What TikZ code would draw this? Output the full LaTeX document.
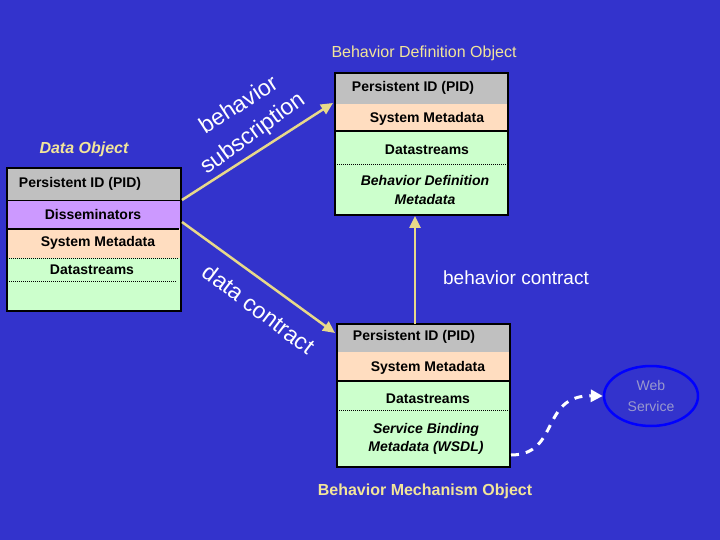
\documentclass[tikz,border=0pt]{standalone}
\usepackage{fontspec}
\setmainfont{Liberation Sans}
\usetikzlibrary{arrows.meta,shapes.geometric}
\definecolor{bg}{HTML}{3333CC}
\definecolor{pidc}{HTML}{C0C0C0}
\definecolor{dissc}{HTML}{CC99FF}
\definecolor{sysc}{HTML}{FFDDC0}
\definecolor{dsc}{HTML}{CCFFCC}
\definecolor{ylw}{HTML}{F2E59A}
\definecolor{arr}{HTML}{E8D98A}
\definecolor{wsc}{HTML}{9999CC}
\begin{document}
\begin{tikzpicture}[x=1pt,y=-1pt,
  btxt/.style={font=\bfseries\fontsize{14}{16}\selectfont, inner sep=0pt},
  itxt/.style={font=\bfseries\itshape\fontsize{14}{18}\selectfont, align=center, inner sep=0pt},
  ttl/.style={text=ylw, font=\fontsize{16}{18}\selectfont, inner sep=0pt},
  conn/.style={arr, line width=2.5pt, -{Triangle[length=12pt,width=11pt]}},
  rot/.style={text=white, font=\fontsize{23}{26}\selectfont, inner sep=0pt},
  dots/.style={densely dotted, line width=1pt},
  thick2/.style={line width=2.5pt}]
\fill[bg] (0,0) rectangle (720,540);
\useasboundingbox (0,0) rectangle (720,540);
% Data object
\fill[pidc] (7,168) rectangle (181,200);
\fill[dissc] (7,200) rectangle (181,229);
\fill[sysc] (7,229) rectangle (181,258);
\fill[dsc] (7,258) rectangle (181,311);
\draw[line width=0.6pt] (7,200) -- (181,200);
\draw[thick2] (7,229) -- (179,229);
\draw[dots] (7,258) -- (179,258);
\draw[dots] (7,281) -- (177,281);
\draw[line width=2pt] (7,168) rectangle (181,311);
\node[btxt] (dpid) at (80,184) {Persistent ID (PID)};
\node[btxt] (ddis) at (93,214) {Disseminators};
\node[btxt] (dsys) at (98,243) {System Metadata};
\node[btxt] (dds) at (92,270) {Datastreams};
\coordinate (dobj1) at (182,200);
\coordinate (dobj2) at (182,222);
\node[text=ylw, font=\bfseries\itshape\fontsize{16}{18}\selectfont, inner sep=0pt] (dtitle) at (84,149) {Data Object};
% BDef
\fill[pidc] (335,73) rectangle (508,104);
\fill[sysc] (335,104) rectangle (508,131);
\fill[dsc] (335,131) rectangle (508,215);
\draw[thick2] (335,131) -- (508,131);
\draw[dots] (335,165) -- (508,165);
\draw[line width=2pt] (335,73) rectangle (508,215);
\node[btxt] (bpid) at (413,88) {Persistent ID (PID)};
\node[btxt] (bsys) at (427,119) {System Metadata};
\node[btxt] (bds) at (427,150) {Datastreams};
\node[itxt] (bmd) at (425,190) {Behavior Definition\\Metadata};
\coordinate (bdefin) at (333,103);
\coordinate (bdefbot) at (415,216);
\node[ttl] (btitle) at (424,53) {Behavior Definition Object};
% BMech
\fill[pidc] (337,324) rectangle (510,352);
\fill[sysc] (337,352) rectangle (510,381);
\fill[dsc] (337,381) rectangle (510,467);
\draw[thick2] (337,381) -- (510,381);
\draw[dots] (337,410) -- (510,410);
\draw[line width=2pt] (337,324) rectangle (510,467);
\node[btxt] (mpid) at (414,337) {Persistent ID (PID)};
\node[btxt] (msys) at (428,368) {System Metadata};
\node[btxt] (mds) at (428,399) {Datastreams};
\node[itxt] (mwsdl) at (426,439) {Service Binding\\Metadata (WSDL)};
\coordinate (mtop) at (415,324);
\coordinate (min) at (335,333);
\coordinate (mout) at (511,455);
\node[ttl, font=\bfseries\fontsize{16}{18}\selectfont] (mtitle) at (425,491) {Behavior Mechanism Object};
% Web service
\node[draw=blue, line width=2.5pt, ellipse, minimum width=94pt, minimum height=60pt, inner sep=0pt,
  text=wsc, align=center, font=\fontsize{14}{21}\selectfont] (ws) at (651,396) {Web\\Service};
% connectors
\draw[conn] (dobj1) -- (bdefin);
\draw[conn] (dobj2) -- (min);
\draw[conn] (mtop) -- (bdefbot);
\draw[white, line width=3pt, dash pattern=on 8pt off 7pt, -{Triangle[length=12pt,width=12pt]}]
  (mout) .. controls (560,455) and (540,395) .. (ws.west);
% labels
\node[rot, rotate=33] (lbeh) at (238,104) {behavior};
\node[rot, rotate=36] (lsub) at (253,134) {subscription};
\node[rot, rotate=-37] (ldc) at (259,309) {data contract};
\node[text=white, font=\fontsize{19}{22}\selectfont, inner sep=0pt] (lbc) at (516,278) {behavior contract};
\end{tikzpicture}
\end{document}
